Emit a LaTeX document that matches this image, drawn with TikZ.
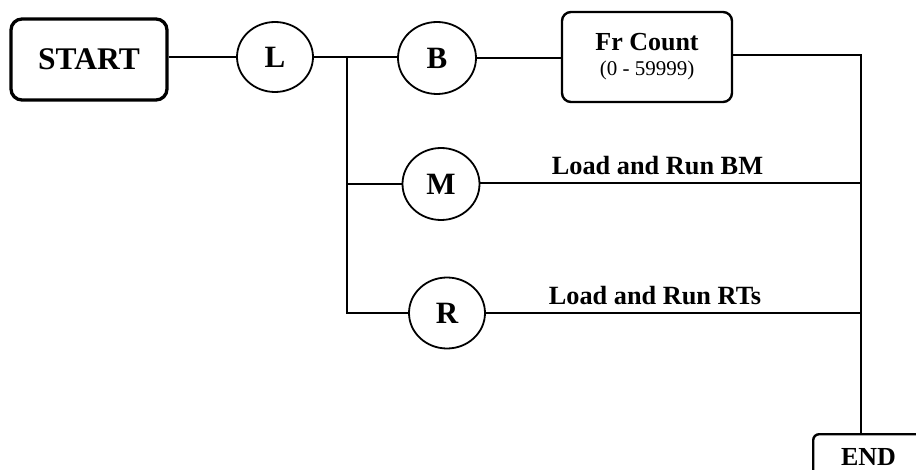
\documentclass[tikz,border=0pt]{standalone}
\usepackage{fontspec}
\setmainfont{Liberation Serif}
\usetikzlibrary{shapes.geometric}

\tikzset{
  wire/.style={line width=2pt},
  stepbox/.style={draw, rounded corners=9pt, line width=2.4pt, inner sep=0pt, align=center},
  statebubble/.style={draw, ellipse, line width=1.8pt, inner sep=0pt,
    font=\fontsize{31}{31}\selectfont\bfseries},
  branchlabel/.style={anchor=base, font=\fontsize{26.3}{26.3}\selectfont\bfseries}
}

\begin{document}
\begin{tikzpicture}[x=1pt,y=-1pt]
  \useasboundingbox (0,0) rectangle (916,470);

  % terminal boxes
  \node[stepbox, line width=3.3pt, rounded corners=11pt, minimum width=156pt, minimum height=81pt,
        font=\fontsize{31.5}{31.5}\selectfont\bfseries] (start) at (89,59.5) {START};
  \node[stepbox, minimum width=170pt, minimum height=90pt,
        font=\fontsize{26}{25}\selectfont] (fr) at (647,57)
    {\textbf{Fr Count}\\{\fontsize{21}{25}\selectfont (0 - 59999)}};
  \node[stepbox, rounded corners=6pt, minimum width=128pt, minimum height=70pt,
        anchor=north west] (end) at (812,433) {};
  \node[font=\fontsize{26}{26}\selectfont\bfseries, anchor=base] (endtext) at (868.5,465) {END};

  % state bubbles
  \node[statebubble, minimum width=76pt, minimum height=70pt] (L) at (275,57) {L};
  \node[statebubble, minimum width=78pt, minimum height=72pt] (B) at (437,58) {B};
  \node[statebubble, minimum width=77pt, minimum height=72pt] (M) at (441,184) {M};
  \node[statebubble, minimum width=76pt, minimum height=71pt] (R) at (447,313) {R};

  % junction points of the bus lines
  \coordinate (split) at (347,57);
  \coordinate (splitM) at (347,184);
  \coordinate (splitR) at (347,313);
  \coordinate (joinFr) at (861,55);
  \coordinate (joinM) at (861,183);
  \coordinate (joinR) at (861,313);

  % connectors
  \draw[wire] (start.east |- L.west) -- (L.west);
  \draw[wire] (L.east) -- (B.west |- L.east);
  \draw[wire] (split) -- (splitR) -- (R.west);
  \draw[wire] (splitM) -- (M.west);
  \draw[wire] (B.east) -- (fr.west |- B.east);
  \draw[wire] (fr.east |- joinFr) -- (joinFr) -- (end.north -| joinFr);
  \draw[wire] (M.east |- joinM) -- (joinM);
  \draw[wire] (R.east) -- (joinR);

  % branch labels
  \node[branchlabel] (lblM) at (657.5,175) {Load and Run BM};
  \node[branchlabel] (lblR) at (655,305) {Load and Run RTs};
\end{tikzpicture}
\end{document}
